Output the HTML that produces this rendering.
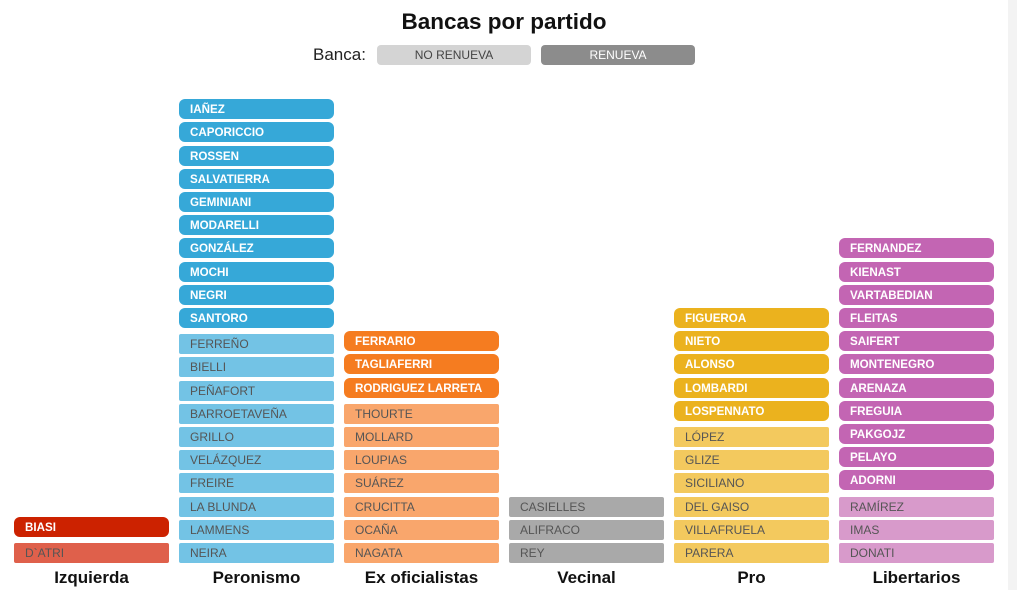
<!DOCTYPE html>
<html><head><meta charset="utf-8">
<style>
html,body{margin:0;padding:0;background:#fff;}
body{width:1017px;height:590px;position:relative;overflow:hidden;font-family:"Liberation Sans",sans-serif;}
.strip{position:absolute;left:1008px;top:0;width:9px;height:590px;background:#f3f3f3;}
.title{position:absolute;left:0;width:1008px;top:9px;text-align:center;font-size:22.5px;font-weight:bold;color:#111;}
.lg{position:absolute;top:45px;height:20px;width:154px;border-radius:4px;font-size:12px;line-height:21px;text-align:center;}
.seat{position:absolute;width:155px;height:20px;box-sizing:border-box;padding-left:11px;font-size:12px;line-height:20px;white-space:nowrap;overflow:hidden;}
.ren{border-radius:6px;color:#fff;font-weight:bold;font-size:11.6px;line-height:21px;}
.no{border-radius:2px;color:#555;}
.lab{position:absolute;top:568px;width:155px;text-align:center;font-size:17px;font-weight:bold;color:#111;}
</style></head>
<body>
<div class="strip"></div>
<div class="title">Bancas por partido</div>
<div style="position:absolute;left:313px;top:45px;font-size:17px;color:#222;">Banca:</div>
<div class="lg" style="left:377px;background:#d4d4d4;color:#444;">NO RENUEVA</div>
<div class="lg" style="left:541px;background:#8c8c8c;color:#fff;">RENUEVA</div>
<div id="chart"></div>
<script>
const parties = ["Izquierda","Peronismo","Ex oficialistas","Vecinal","Pro","Libertarios"];
const renueva = [
  ["BIASI"],
  ["IAÑEZ","CAPORICCIO","ROSSEN","SALVATIERRA","GEMINIANI","MODARELLI","GONZÁLEZ","MOCHI","NEGRI","SANTORO"],
  ["FERRARIO","TAGLIAFERRI","RODRIGUEZ LARRETA"],
  [],
  ["FIGUEROA","NIETO","ALONSO","LOMBARDI","LOSPENNATO"],
  ["FERNANDEZ","KIENAST","VARTABEDIAN","FLEITAS","SAIFERT","MONTENEGRO","ARENAZA","FREGUIA","PAKGOJZ","PELAYO","ADORNI"]
];
const noRenueva = [
  ["D`ATRI"],
  ["FERREÑO","BIELLI","PEÑAFORT","BARROETAVEÑA","GRILLO","VELÁZQUEZ","FREIRE","LA BLUNDA","LAMMENS","NEIRA"],
  ["THOURTE","MOLLARD","LOUPIAS","SUÁREZ","CRUCITTA","OCAÑA","NAGATA"],
  ["CASIELLES","ALIFRACO","REY"],
  ["LÓPEZ","GLIZE","SICILIANO","DEL GAISO","VILLAFRUELA","PARERA"],
  ["RAMÍREZ","IMAS","DONATI"]
];
const renColors = ["#cc2200","#36a8d8","#f57c20","#8c8c8c","#ebb21e","#c365b3"];
const noColors = ["#df604b","#73c3e5","#f9a66c","#a9a9a9","#f3c95e","#d89acb"];

const colX = i => 14 + i*165;
const pitch = 23.2, bottomTop = 543, gap = 3;
const rowY = k => bottomTop - k*pitch;
const chart = document.getElementById('chart');
parties.forEach((p,i)=>{
  const nr = noRenueva[i], rr = renueva[i];
  nr.forEach((name,j)=>{
    const k = nr.length-1-j;
    const d = document.createElement('div');
    d.className='seat no';
    
    
    d.style.left = colX(i)+'px'; d.style.top = rowY(k)+'px'; d.style.background = noColors[i];
    d.textContent = name; chart.appendChild(d);
  });
  rr.forEach((name,j)=>{
    const k = nr.length + (rr.length-1-j);
    const d = document.createElement('div');
    d.className='seat ren';
    
    
    d.style.left = colX(i)+'px'; d.style.top = (rowY(k)-gap)+'px'; d.style.background = renColors[i];
    d.textContent = name; chart.appendChild(d);
  });
  const l = document.createElement('div');
  l.className='lab';
  
  
  l.style.left = colX(i)+'px'; l.textContent = p; chart.appendChild(l);
});
</script>
</body></html>
